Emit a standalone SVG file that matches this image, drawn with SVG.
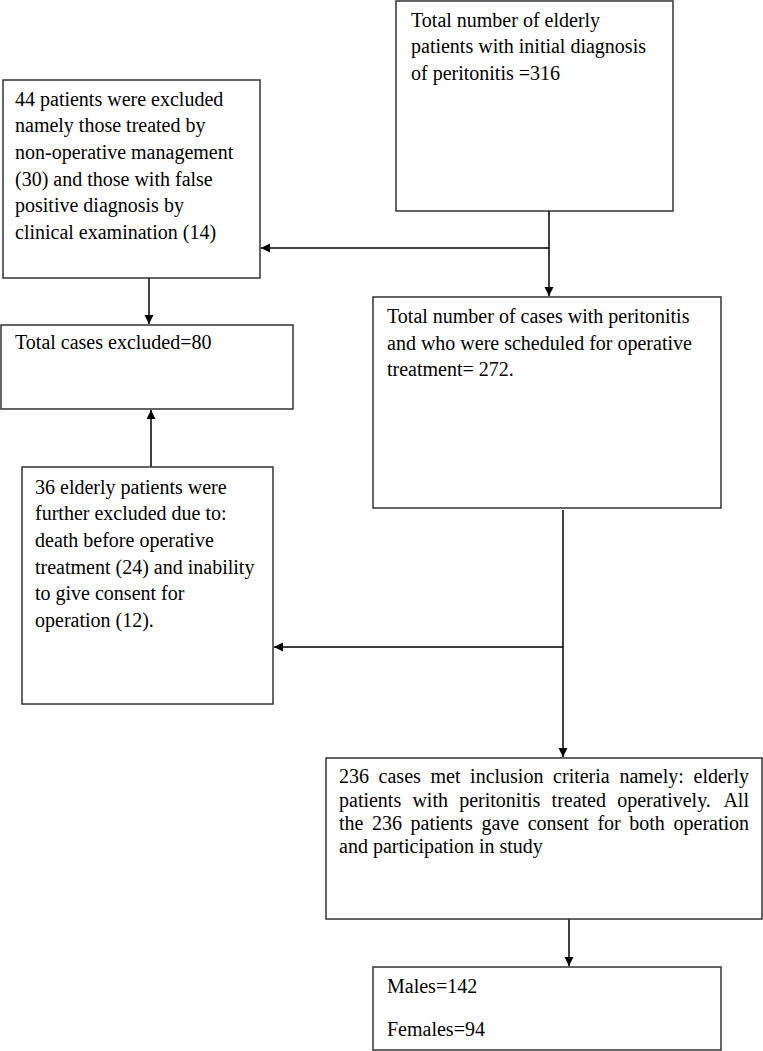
<svg xmlns="http://www.w3.org/2000/svg" width="763" height="1051" viewBox="0 0 763 1051">
<style>
.box{fill:#fff;stroke:#333;stroke-width:1.5}
.t{font-family:"Liberation Serif","Times New Roman",serif;font-size:20px;fill:#000}
.c{stroke:#000;stroke-width:1.5;fill:none}
</style>
<defs>
<marker id="ah" markerUnits="userSpaceOnUse" markerWidth="10" markerHeight="10" refX="9" refY="4.5" orient="auto">
<path d="M0,0 L9,4.5 L0,9 z" fill="#000"/>
</marker>
</defs>
<rect width="763" height="1051" fill="#fff"/>
<g id="connectors">
<line class="c" x1="549" y1="211" x2="549" y2="296" marker-end="url(#ah)"/>
<line class="c" x1="549" y1="248" x2="261" y2="248" marker-end="url(#ah)"/>
<line class="c" x1="149" y1="278" x2="149" y2="324" marker-end="url(#ah)"/>
<line class="c" x1="151" y1="467" x2="151" y2="410" marker-end="url(#ah)"/>
<line class="c" x1="563" y1="510" x2="563" y2="757" marker-end="url(#ah)"/>
<line class="c" x1="563" y1="647" x2="274" y2="647" marker-end="url(#ah)"/>
<line class="c" x1="569" y1="917" x2="569" y2="966" marker-end="url(#ah)"/>
</g>
<g id="node-initial">
<rect class="box" x="396" y="1" width="277" height="210"/>
<text class="t" x="411" y="26.5">Total number of elderly</text>
<text class="t" x="411" y="53.2">patients with initial diagnosis</text>
<text class="t" x="411" y="79.9">of peritonitis =316</text>
</g>
<g id="node-excluded44">
<rect class="box" x="3" y="80" width="257" height="198"/>
<text class="t" x="15" y="105.5">44 patients were excluded</text>
<text class="t" x="15" y="132.2">namely those treated by</text>
<text class="t" x="15" y="158.9">non-operative management</text>
<text class="t" x="15" y="185.6">(30) and those with false</text>
<text class="t" x="15" y="212.3">positive diagnosis by</text>
<text class="t" x="15" y="239">clinical examination (14)</text>
</g>
<g id="node-total-excluded">
<rect class="box" x="1" y="325" width="292" height="84"/>
<text class="t" x="15" y="349">Total cases excluded=80</text>
</g>
<g id="node-scheduled">
<rect class="box" x="373" y="297" width="348" height="211"/>
<text class="t" x="387" y="323">Total number of cases with peritonitis</text>
<text class="t" x="387" y="349.7">and who were scheduled for operative</text>
<text class="t" x="387" y="376.4">treatment= 272.</text>
</g>
<g id="node-excluded36">
<rect class="box" x="22" y="467" width="251" height="237"/>
<text class="t" x="35" y="493.5">36 elderly patients were</text>
<text class="t" x="35" y="520.2">further excluded due to:</text>
<text class="t" x="35" y="546.9">death before operative</text>
<text class="t" x="35" y="573.6">treatment (24) and inability</text>
<text class="t" x="35" y="600.3">to give consent for</text>
<text class="t" x="35" y="627">operation (12).</text>
</g>
<g id="node-included">
<rect class="box" x="326" y="758" width="436" height="161"/>
<text class="t" y="783.3"><tspan x="339">236</tspan><tspan x="378.6">cases</tspan><tspan x="430.5">met</tspan><tspan x="470.1">inclusion</tspan><tspan x="553.1">criteria</tspan><tspan x="619.4">namely:</tspan><tspan x="693.5">elderly</tspan></text>
<text class="t" y="806.7"><tspan x="339">patients</tspan><tspan x="412.4">with</tspan><tspan x="459.2">peritonitis</tspan><tspan x="551.6">treated</tspan><tspan x="617.2">operatively.</tspan><tspan x="723.4">All</tspan></text>
<text class="t" y="830"><tspan x="339">the</tspan><tspan x="372">236</tspan><tspan x="410.6">patients</tspan><tspan x="481.4">gave</tspan><tspan x="527.7">consent</tspan><tspan x="597.4">for</tspan><tspan x="629.3">both</tspan><tspan x="673.5">operation</tspan></text>
<text class="t" x="339" y="853.3">and participation in study</text>
</g>
<g id="node-sex">
<rect class="box" x="373" y="967" width="348" height="83"/>
<text class="t" x="387" y="993">Males=142</text>
<text class="t" x="387" y="1036">Females=94</text>
</g>
</svg>
